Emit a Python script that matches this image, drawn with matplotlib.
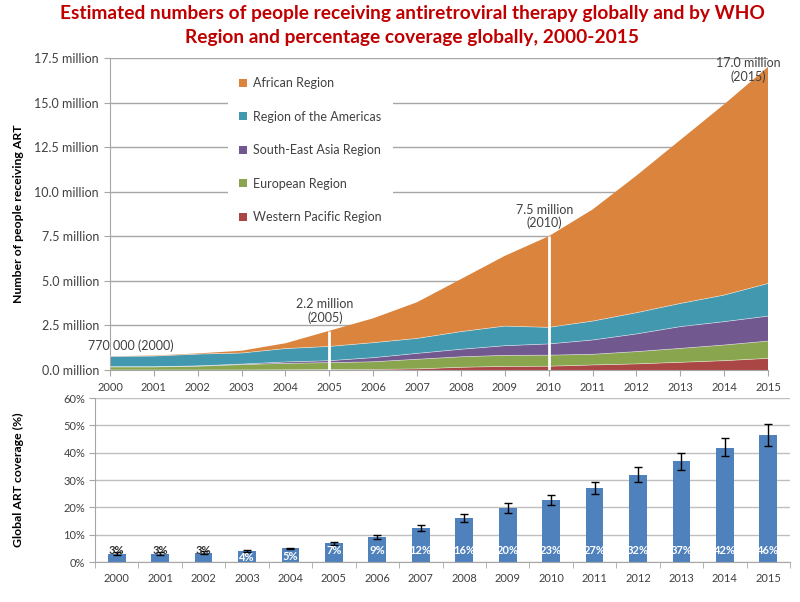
import matplotlib
matplotlib.use("Agg")
import matplotlib.pyplot as plt
from matplotlib.patches import Patch
import numpy as np

plt.rcParams['font.family'] = ['Lato', 'DejaVu Sans']

years = list(range(2000, 2016))
regions = ["Western Pacific Region", "European Region", "South-East Asia Region",
           "Region of the Americas", "African Region"]
colors = ["#AA4643", "#89A54E", "#71588F", "#4198AF", "#DB843D"]

# millions of people receiving ART, by region
wpr = [0.00, 0.00, 0.00, 0.00, 0.01, 0.02, 0.03, 0.06, 0.15, 0.20, 0.21, 0.28, 0.34, 0.43, 0.52, 0.65]
eur = [0.17, 0.17, 0.21, 0.30, 0.36, 0.39, 0.43, 0.54, 0.59, 0.62, 0.62, 0.60, 0.69, 0.78, 0.88, 0.97]
sear = [0.01, 0.01, 0.02, 0.03, 0.08, 0.11, 0.23, 0.33, 0.42, 0.54, 0.63, 0.80, 0.99, 1.22, 1.31, 1.40]
amr = [0.58, 0.60, 0.66, 0.62, 0.75, 0.80, 0.84, 0.84, 0.99, 1.10, 0.93, 1.06, 1.19, 1.30, 1.49, 1.83]
afr = [0.01, 0.03, 0.04, 0.13, 0.30, 0.88, 1.37, 2.03, 2.95, 3.94, 5.11, 6.26, 7.69, 9.17, 10.70, 12.15]

# global ART coverage (%), with uncertainty range
coverage = [2.9, 3.1, 3.3, 4.0, 5.0, 7.0, 9.3, 12.4, 16.1, 19.6, 22.7, 27.1, 31.8, 36.9, 41.8, 46.6]
cov_low = [2.4, 2.7, 3.0, 3.8, 4.8, 6.3, 8.6, 11.5, 14.7, 17.9, 20.8, 24.8, 29.2, 33.8, 38.7, 42.6]
cov_high = [3.6, 3.8, 4.0, 4.3, 5.0, 7.3, 10.0, 13.6, 17.4, 21.6, 24.5, 29.2, 34.6, 40.0, 45.3, 50.6]
cov_labels = ["3%", "3%", "3%", "4%", "5%", "7%", "9%", "12%", "16%", "20%", "23%", "27%",
              "32%", "37%", "42%", "46%"]

annotations = [(2000, "770 000 (2000)"), (2005, "2.2 million\n(2005)"),
               (2010, "7.5 million\n(2010)"), (2015, "17.0 million\n(2015)")]
marked_years = [2005, 2010]

title_lines = ["Estimated numbers of people receiving antiretroviral therapy globally and by WHO",
               "Region and percentage coverage globally, 2000-2015"]

txt = "#404040"
grid_c = "#A6A6A6"
W, H = 800, 602

fig = plt.figure(figsize=(8, 6.02), dpi=100)
for k, line in enumerate(title_lines):
    fig.text(412 / W, 1 - (14 + 24 * k) / H, line, ha="center", va="center",
             color="#C00000", fontsize=13.8, fontweight="bold")

# ---------------- top chart ----------------
ax = fig.add_axes([0.1375, 0.3854, 0.8225, 0.5183])
stack = np.vstack([wpr, eur, sear, amr, afr])
ax.stackplot(years, stack, colors=colors, linewidth=0)
total = stack.sum(axis=0)
cum = np.cumsum(stack, axis=0)
for row in cum[:-1]:
    ax.plot(years, row, color="white", lw=0.5, alpha=0.6, zorder=3)
for y in marked_years:
    i = years.index(y)
    ax.vlines(y, 0, total[i], color="white", lw=2, zorder=4)

ax.set_xlim(2000, 2015)
ax.set_ylim(0, 17.5)
yt = np.arange(0, 17.6, 2.5)
ax.set_yticks(yt)
ax.set_yticklabels([f"{v:.1f} million" for v in yt])
ax.set_xticks(years)
ax.set_xticklabels([str(y) for y in years])
ax.grid(axis="y", color=grid_c, lw=1)
ax.set_axisbelow(True)
for s in ["top", "right"]:
    ax.spines[s].set_visible(False)
for s in ["left", "bottom"]:
    ax.spines[s].set_color(grid_c)
ax.tick_params(axis="both", colors=grid_c, labelcolor=txt, length=4)
ax.tick_params(axis="x", pad=5, labelsize=8)
ax.tick_params(axis="y", pad=4, labelsize=9)
ax.set_ylabel("Number of people receiving ART", fontsize=8.8, fontweight="bold",
              color="black")
ax.yaxis.set_label_coords(-0.131, 0.5)

for yr, lab in annotations:
    i = years.index(yr)
    if yr == 2000:
        ax.text(yr - 0.5, total[i] + 0.22, lab, ha="left", va="bottom", fontsize=9, color=txt)
    elif yr == 2015:
        ax.text(yr - 0.46, total[i] + 0.55, lab, ha="center", va="top", fontsize=9,
                color=txt, multialignment="center", linespacing=1.1)
    else:
        ax.text(yr - 0.1, total[i] + 0.4, lab, ha="center", va="bottom", fontsize=9,
                color=txt, multialignment="center", linespacing=1.1)

handles = [Patch(facecolor=colors[k], edgecolor="none") for k in range(4, -1, -1)]
labels = [regions[k] for k in range(4, -1, -1)]
leg = ax.legend(handles, labels, loc="upper left", bbox_to_anchor=(0.17, 0.995),
                frameon=True, facecolor="white", edgecolor="none", framealpha=1,
                fontsize=9, handlelength=0.6, handleheight=0.6, handletextpad=0.5,
                labelspacing=1.72, borderpad=0.9, fancybox=False)
for t in leg.get_texts():
    t.set_color(txt)

# ---------------- bottom chart ----------------
bx = fig.add_axes([0.11875, 0.0664, 0.86875, 0.2724])
x = np.arange(len(years))
bx.bar(x, coverage, width=0.41, color="#4F81BD", zorder=2)
err = [np.array(coverage) - np.array(cov_low), np.array(cov_high) - np.array(coverage)]
bx.errorbar(x, coverage, yerr=err, fmt="none", ecolor="black", elinewidth=1,
            capsize=3, capthick=1, zorder=3)
for i, (v, lab) in enumerate(zip(coverage, cov_labels)):
    if v < 3.5:
        bx.text(i, 4.2, lab, ha="center", va="center", fontsize=8, color="#333333",
                fontweight="bold", zorder=4)
    elif v < 6:
        bx.text(i, v / 2 - 0.3, lab, ha="center", va="center", fontsize=8, color="white",
                fontweight="bold", zorder=4)
    else:
        bx.text(i, 4.2, lab, ha="center", va="center", fontsize=8, color="white",
                fontweight="bold", zorder=4)

bx.set_xlim(-0.5, len(years) - 0.5)
bx.set_ylim(0, 60)
bx.set_yticks(np.arange(0, 61, 10))
bx.set_yticklabels([f"{v}%" for v in range(0, 61, 10)])
bx.set_xticks(x)
bx.set_xticklabels([str(y) for y in years])
bx.set_xticks(np.arange(-0.5, len(years), 1), minor=True)
bx.grid(axis="y", color="#BFBFBF", lw=1, zorder=0)
bx.set_axisbelow(True)
for s in ["top", "right"]:
    bx.spines[s].set_visible(False)
for s in ["left", "bottom"]:
    bx.spines[s].set_color(grid_c)
bx.tick_params(axis="x", which="major", length=0, pad=8, labelsize=8, labelcolor=txt)
bx.tick_params(axis="x", which="minor", length=4, color=grid_c)
bx.tick_params(axis="y", length=4, color=grid_c, labelcolor=txt, labelsize=8, pad=3)
bx.set_ylabel("Global ART coverage (%)", fontsize=8.8, fontweight="bold", color="black")
bx.yaxis.set_label_coords(-0.102, 0.5)

fig.savefig("out.png", dpi=100)
